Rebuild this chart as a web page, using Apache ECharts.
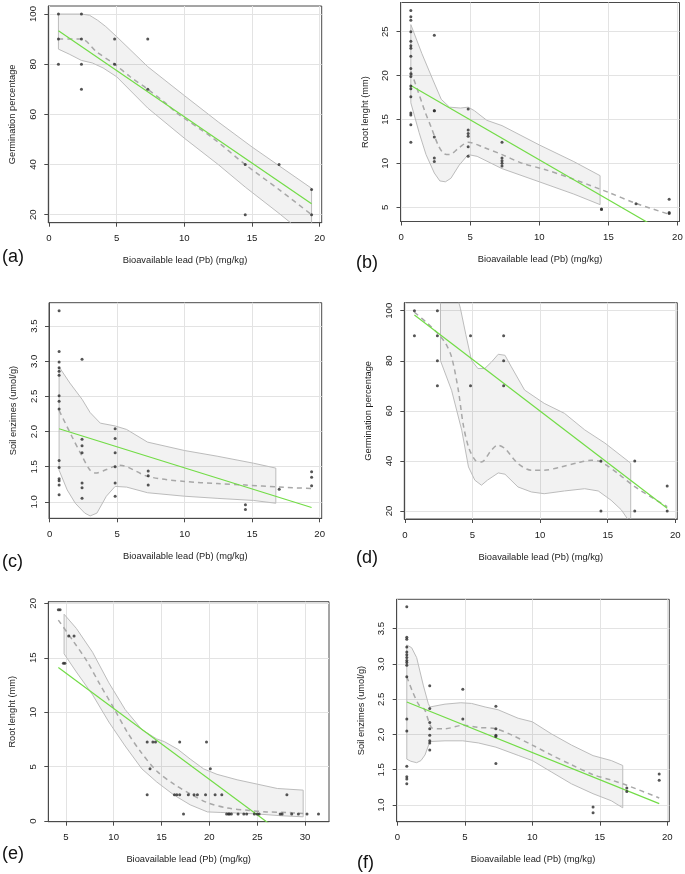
<!DOCTYPE html>
<html><head><meta charset="utf-8">
<script src="https://cdn.jsdelivr.net/npm/echarts@6/dist/echarts.min.js"></script>
<style>html,body{margin:0;padding:0;background:#fff}#c{width:685px;height:874px}</style>
</head><body><div id="c"></div>
<script>
// ---------- tick labels ----------
const ticksPb20 = [0, 5, 10, 15, 20];
const ticksPb30 = [5, 10, 15, 20, 25, 30];
const ticksGerm = [20, 40, 60, 80, 100];
const ticksRootB = [5, 10, 15, 20, 25];
const ticksRootE = [0, 5, 10, 15, 20];
const ticksEnz = [1.0, 1.5, 2.0, 2.5, 3.0, 3.5];

// ---------- (a) Germination ----------
const aX = [0.7,0.7,0.7, 2.4,2.4,2.4,2.4, 4.85,4.85, 7.3,7.3, 14.5,14.5, 17, 19.4,19.4];
const aY = [100,90,80, 100,90,80,70, 90,80, 90,70, 40,20, 40, 30,20];
const aLmX = [0.7, 19.4];
const aLmY = [93.3, 24.4];
const aLoX = [0.7, 2.4, 3.5, 4.85, 6, 7.3, 8.5, 9.5, 12, 14.5, 17, 19.4];
const aLoY = [90, 90, 85, 80, 75, 70, 65, 60.3, 51, 40, 30, 20];
const aUpX = [0.7, 2.4, 3.0, 3.6, 4.2, 5, 7.3, 10, 12.5, 15, 17, 19.4];
const aUpY = [100, 100, 99.5, 97.5, 95, 91, 79, 67.5, 57, 47, 39.5, 30.5];
const aLwX = [0.7, 1.5, 2.4, 3.2, 4, 5, 7.3, 10, 12.5, 14.5, 17, 19.4];
const aLwY = [86, 84, 81.5, 80.5, 78.5, 75, 62.5, 50.5, 40, 31, 20.5, 10];

// ---------- (b) Root length ----------
const bX = [0.7,0.7,0.7,0.7,0.7,0.7,0.7,0.7,0.7,0.7,0.7,0.7,0.7,0.7,0.7,0.7,0.7,0.7,
            2.4,2.4,2.4,2.4,2.4,2.4, 4.85,4.85,4.85,4.85,4.85,4.85, 7.3,7.3,7.3,7.3,7.3,
            14.5,14.5, 17, 19.4,19.4,19.4];
const bY = [27.4,26.7,26.3,25.0,23.9,23.4,23.1,22.2,20.8,20.2,19.9,18.8,18.5,17.6,15.75,15.5,14.4,12.4,
            24.6,16.0,16.0,13.0,10.6,10.2, 16.2,13.8,13.4,13.1,11.9,10.8, 12.4,10.6,10.3,10.0,9.7,
            4.8,4.75, 5.4, 5.9,4.4,4.3];
const bLmX = [0.7, 19.4];
const bLmY = [18.87, 1.85];
const bLoX = [0.7, 1.2, 1.7, 2.2, 2.7, 3.1, 3.5, 4.2, 4.85, 6.0, 7.3, 8.7, 10.4, 12.3, 15.0, 16.9, 19.4];
const bLoY = [20.5, 18.3, 16.0, 14.0, 12.0, 11.1, 11.0, 11.8, 12.4, 11.8, 11.0, 10.05, 9.3, 8.3, 6.7, 5.5, 4.2];
const bUpX = [0.7, 1.5, 2.3, 2.9, 3.5, 4.3, 4.85, 5.3, 6.2, 7.3, 10, 12.5, 14.4];
const bUpY = [25.8, 22.5, 19.5, 17.3, 16.4, 16.3, 16.4, 16.0, 14.9, 14.3, 12.1, 10.2, 8.6];
const bLwX = [0.7, 1.3, 1.8, 2.4, 2.8, 3.2, 3.6, 4.2, 4.85, 5.5, 7.3, 10, 12.5, 14.4];
const bLwY = [16.9, 13.5, 11.0, 8.9, 8.0, 7.9, 8.3, 9.8, 11.0, 10.8, 9.4, 7.9, 6.5, 5.3];

// ---------- (c) Soil enzimes ----------
const cX = [0.7,0.7,0.7,0.7,0.7,0.7,0.7,0.7,0.7,0.7,0.7,0.7,0.7,0.7,0.7,
            2.4,2.4,2.4,2.4,2.4,2.4,2.4, 4.85,4.85,4.85,4.85,4.85,4.85, 7.3,7.3,7.3,
            14.5,14.5, 17, 19.4,19.4,19.4];
const cY = [3.72,3.14,2.99,2.91,2.86,2.80,2.51,2.43,2.32,1.59,1.49,1.33,1.30,1.24,1.10,
            3.03,1.89,1.80,1.70,1.27,1.20,1.05, 2.04,1.90,1.70,1.50,1.27,1.08, 1.44,1.37,1.24,
            0.96,0.89, 1.18, 1.43,1.35,1.23];
const cLmX = [0.7, 19.4];
const cLmY = [2.04, 0.92];
const cLoX = [0.7, 1.65, 2.4, 3.0, 3.4, 4.2, 4.85, 5.2, 7.3, 10, 12.4, 14.5, 17, 19.4];
const cLoY = [2.30, 1.93, 1.65, 1.45, 1.41, 1.46, 1.51, 1.52, 1.36, 1.29, 1.26, 1.24, 1.21, 1.19];
const cUpX = [0.7, 1.5, 2.4, 3.0, 3.75, 4.85, 5.7, 7.25, 10, 12.4, 15.1, 16.75];
const cUpY = [2.92, 2.69, 2.46, 2.27, 2.12, 2.08, 2.03, 1.85, 1.73, 1.65, 1.55, 1.48];
const cLwX = [0.7, 1.3, 1.9, 2.6, 3.0, 3.5, 4.2, 4.85, 5.7, 7.25, 10, 12.4, 15.1, 16.75];
const cLwY = [1.45, 1.17, 0.98, 0.84, 0.80, 0.84, 1.08, 1.22, 1.21, 1.13, 1.08, 1.05, 1.02, 0.98];

// ---------- (d) Germination ----------
const dX = [0.7,0.7, 2.4,2.4,2.4,2.4, 4.85,4.85, 7.3,7.3,7.3, 14.5,14.5, 17,17, 19.4,19.4];
const dY = [100,90, 100,90,80,70, 90,70, 90,80,70, 40,20, 40,20, 30,20];
const dLmX = [0.7, 19.4];
const dLmY = [98.3, 21.1];
const dLoX = [0.7, 1.7, 2.45, 3.0, 3.45, 3.95, 4.3, 4.7, 5.2, 5.65, 6.4, 6.85, 7.4, 8.35, 9.35, 10.3, 11.55, 12.8, 13.8, 14.5, 15.75, 17, 19.4];
const dLoY = [99.4, 94.8, 90.8, 87, 81.5, 68.2, 54.9, 45.6, 40.3, 39.6, 44.3, 46.3, 44.9, 39.0, 36.3, 36.3, 37.6, 39.3, 40.3, 39.6, 35.0, 29.7, 21.7];
const dUpX = [2.63, 3.2, 3.8, 4.1, 4.5, 4.92, 5.4, 5.9, 6.4, 6.9, 7.4, 7.87, 8.85, 10.3, 11.8, 13.3, 14.8, 16.7];
const dUpY = [130, 118, 107, 101, 90.6, 80.2, 76.9, 76.9, 79.5, 82.6, 82.2, 77.6, 68.3, 63.0, 59.0, 52.4, 47.1, 39.1];
const dLwX = [2.63, 3.45, 4.2, 4.7, 5.17, 5.66, 6.1, 6.9, 7.4, 8.36, 9.35, 10.3, 11.8, 13.3, 14.3, 15.25, 16.0, 16.7];
const dLwY = [80, 68.2, 52.3, 37.6, 32.3, 30.3, 32.3, 35.2, 34.7, 29.6, 27.6, 26.9, 28.0, 28.9, 28.0, 24.3, 20.5, 15.0];

// ---------- (e) Root length ----------
const eX = [4.22,4.4,4.75,4.9,5.3,5.86, 13.5,14.1,14.37,16.9,19.7, 13.8,20.1,
            13.5,16.35,16.6,16.9,17.8,18.4,18.75,19.6,20.6,21.3,28.1,
            17.3,21.8,22.0,22.1,22.3,23.0,23.6,23.9,24.7,25.0,25.2,27.4,27.6,28.6,29.3,30.2,31.4];
const eY = [19.4,19.4,14.5,14.5,17.0,17.0, 7.27,7.27,7.27,7.27,7.27, 4.82,4.82,
            2.43,2.43,2.43,2.43,2.43,2.43,2.43,2.43,2.43,2.43,2.43,
            0.65,0.65,0.65,0.65,0.65,0.65,0.65,0.65,0.65,0.65,0.65,0.65,0.65,0.65,0.65,0.65,0.65];
const eLmX = [4.22, 31.4];
const eLmY = [14.1, -3.58];
const eLoX = [4.22, 5.8, 7.2, 8.6, 10.0, 11.4, 12.8, 14.5, 16.3, 18.0, 19.8, 21.9, 24.0, 26.0, 28.1, 29.8];
const eLoY = [18.46, 16.5, 14.7, 12.5, 10.4, 8.2, 6.4, 4.6, 3.4, 2.5, 1.7, 1.2, 1.0, 0.85, 0.8, 0.7];
const eUpX = [4.82, 6.1, 7.8, 9.5, 11.2, 12.95, 14.5, 15.3, 16.7, 18.0, 19.4, 20.8, 22.9, 25.0, 27.1, 29.8];
const eUpY = [19.0, 17.7, 15.5, 12.7, 10.25, 8.4, 7.55, 7.3, 6.6, 5.7, 4.8, 4.3, 3.8, 3.4, 3.0, 2.85];
const eLwX = [4.82, 6.1, 7.8, 9.5, 11.2, 12.95, 14.5, 16.3, 18.0, 19.8, 21.2, 23.0, 25.0, 27.5, 29.8];
const eLwY = [15.36, 13.7, 11.6, 9.1, 6.9, 4.8, 3.6, 2.4, 1.5, 0.85, 0.8, 0.75, 0.66, 0.5, 0.4];

// ---------- (f) Soil enzimes ----------
const fX = [0.7,0.7,0.7,0.7,0.7,0.7,0.7,0.7,0.7,0.7,0.7,0.7,0.7,0.7,0.7,0.7,0.7,
            2.4,2.4,2.4,2.4,2.4,2.4,2.4,2.4, 4.85,4.85, 7.3,7.3,7.3,7.3,7.3,
            14.5,14.5, 17,17, 19.4,19.4];
const fY = [3.81,3.38,3.35,3.24,3.17,3.13,3.09,3.05,3.02,2.98,2.82,2.22,2.05,1.55,1.40,1.37,1.30,
            2.69,2.37,2.17,2.08,1.99,1.91,1.88,1.78, 2.64,2.22, 2.40,2.08,1.99,1.97,1.59,
            0.97,0.89, 1.24,1.19, 1.44,1.35];
const fLmX = [0.7, 19.4];
const fLmY = [2.46, 1.02];
const fLoX = [0.7, 1.1, 1.6, 2.0, 2.3, 2.6, 3.5, 4.85, 6.0, 7.3, 8.5, 10, 11.4, 12.9, 14.5, 15.9, 17, 19.4];
const fLoY = [2.82, 2.62, 2.42, 2.36, 2.2, 2.09, 2.08, 2.13, 2.10, 2.08, 1.99, 1.85, 1.71, 1.57, 1.43, 1.35, 1.28, 1.10];
const fUpX = [0.7, 1.06, 1.43, 1.92, 2.29, 2.41, 3.53, 4.7, 5.5, 6.5, 7.47, 8.95, 10, 11.4, 12.9, 14.5, 15.85, 16.7];
const fUpY = [3.27, 3.23, 3.09, 2.70, 2.44, 2.39, 2.43, 2.45, 2.44, 2.39, 2.35, 2.23, 2.18, 2.01, 1.85, 1.70, 1.63, 1.56];
const fLwX = [0.7, 1.0, 1.43, 1.75, 2.05, 2.41, 3.53, 4.85, 6.0, 7.3, 9.0, 10, 11.4, 12.9, 14.5, 15.85, 16.7];
const fLwY = [1.65, 1.62, 1.60, 1.63, 1.71, 1.90, 1.91, 1.91, 1.88, 1.82, 1.70, 1.63, 1.47, 1.30, 1.16, 1.06, 0.96];

// ---------- layout & styling ----------
const FONT = '"Liberation Sans", Arial, Helvetica, sans-serif';
const X_NAME = 'Bioavailable lead (Pb) (mg/kg)';
const panels = [
  {grid:{left:48.3, top:6, width:273.4, height:216.7}, xr:[-0.048,20.148], yr:[16.8,103.2], xt:ticksPb20, yt:ticksGerm, yd:0,
   yName:'Germination percentage', P:[aX,aY], L:[aLmX,aLmY], S:[aLoX,aLoY], U:[aUpX,aUpY], W:[aLwX,aLwY], tag:'(a)', tp:[2,248]},
  {grid:{left:400.5, top:2.5, width:279, height:219}, xr:[-0.048,20.148], yr:[3.38,28.32], xt:ticksPb20, yt:ticksRootB, yd:0,
   yName:'Root lenght (mm)', P:[bX,bY], L:[bLmX,bLmY], S:[bLoX,bLoY], U:[bUpX,bUpY], W:[bLwX,bLwY], tag:'(b)', tp:[356,254]},
  {grid:{left:49, top:302.7, width:272.7, height:215.6}, xr:[-0.048,20.148], yr:[0.766,3.834], xt:ticksPb20, yt:ticksEnz, yd:1,
   yName:'Soil enzimes (umol/g)', P:[cX,cY], L:[cLmX,cLmY], S:[cLoX,cLoY], U:[cUpX,cUpY], W:[cLwX,cLwY], tag:'(c)', tp:[2,553]},
  {grid:{left:404.3, top:302.7, width:273, height:216.3}, xr:[-0.048,20.148], yr:[16.8,103.2], xt:ticksPb20, yt:ticksGerm, yd:0,
   yName:'Germination percentage', P:[dX,dY], L:[dLmX,dLmY], S:[dLoX,dLoY], U:[dUpX,dUpY], W:[dLwX,dLwY], tag:'(d)', tp:[356,549]},
  {grid:{left:48.3, top:601.7, width:280.7, height:220}, xr:[3.17,32.5], yr:[-0.048,20.148], xt:ticksPb30, yt:ticksRootE, yd:0,
   yName:'Root lenght (mm)', P:[eX,eY], L:[eLmX,eLmY], S:[eLoX,eLoY], U:[eUpX,eUpY], W:[eLwX,eLwY], tag:'(e)', tp:[2,845]},
  {grid:{left:396.7, top:599.3, width:272.6, height:222.4}, xr:[-0.048,20.148], yr:[0.763,3.917], xt:ticksPb20, yt:ticksEnz, yd:1,
   yName:'Soil enzimes (umol/g)', P:[fX,fY], L:[fLmX,fLmY], S:[fLoX,fLoY], U:[fUpX,fUpY], W:[fLwX,fLwY], tag:'(f)', tp:[357,854]}
];

const zip = (xs, ys) => xs.map((x, i) => [x, ys[i]]);
const BOX = '#4a4a4a';
const GRIDLINE = '#e3e3e3';
const TXT = '#1a1a1a';

const grids = [], xAxes = [], yAxes = [], series = [], graphics = [];
panels.forEach((p, i) => {
  grids.push(Object.assign({show:true, borderColor:BOX, borderWidth:1, backgroundColor:'transparent',
    containLabel:false, outerBoundsMode:'none'}, p.grid));
  const axisCommon = (ticks, dec, margin) => ({
    axisLine:{show:true, onZero:false, lineStyle:{color:BOX, width:1}},
    axisTick:{show:true, inside:false, length:4, lineStyle:{color:BOX, width:1}, customValues:ticks},
    axisLabel:{show:true, customValues:ticks, fontSize:9.6, color:TXT, fontFamily:FONT, margin:margin,
      formatter: v => Number(v).toFixed(dec), hideOverlap:false},
    splitLine:{show:true, lineStyle:{color:GRIDLINE, width:1}},
    nameTextStyle:{fontSize:9.3, color:TXT, fontFamily:FONT}
  });
  xAxes.push(Object.assign({gridIndex:i, type:'value', min:p.xr[0], max:p.xr[1], name:X_NAME,
    nameLocation:'middle', nameGap:33.5}, axisCommon(p.xt, 0, 11)));
  const ya = Object.assign({gridIndex:i, type:'value', min:p.yr[0], max:p.yr[1], name:p.yName,
    nameLocation:'middle', nameGap:31, nameRotate:90}, axisCommon(p.yt, p.yd, 10));
  ya.axisLabel.rotate = 90;
  yAxes.push(ya);

  const U = p.U, W = p.W;
  series.push({
    type:'custom', xAxisIndex:i, yAxisIndex:i, clip:true, silent:true, z:1,
    data:[[U[0][0], U[1][0]]], encode:{x:0, y:1},
    renderItem:(params, api) => {
      const pts = [];
      for (let k = 0; k < U[0].length; k++) pts.push(api.coord([U[0][k], U[1][k]]));
      for (let k = W[0].length - 1; k >= 0; k--) pts.push(api.coord([W[0][k], W[1][k]]));
      return {type:'polygon', shape:{points:pts},
        style:{fill:'rgba(0,0,0,0.05)', stroke:'#bcbcbc', lineWidth:1}};
    }
  });
  series.push({type:'line', xAxisIndex:i, yAxisIndex:i, data:zip(p.S[0], p.S[1]), symbol:'none',
    smooth:0.3, silent:true, z:2, lineStyle:{color:'#a8a8a8', width:1.5, type:[5,4]}});
  series.push({type:'line', xAxisIndex:i, yAxisIndex:i, data:zip(p.L[0], p.L[1]), symbol:'none',
    silent:true, z:3, lineStyle:{color:'#72dc46', width:1.2}});
  series.push({type:'scatter', xAxisIndex:i, yAxisIndex:i, data:zip(p.P[0], p.P[1]), symbol:'circle',
    symbolSize:3, silent:true, z:4, itemStyle:{color:'#2a2a2a'}});

  graphics.push({type:'text', left:p.tp[0], top:p.tp[1],
    style:{text:p.tag, fontSize:18, fill:'#111', fontFamily:FONT}});
});

const chart = echarts.init(document.getElementById('c'), null, {renderer:'canvas'});
chart.setOption({
  animation:false,
  backgroundColor:'#ffffff',
  grid:grids, xAxis:xAxes, yAxis:yAxes, series:series, graphic:graphics
});
</script>
</body></html>
